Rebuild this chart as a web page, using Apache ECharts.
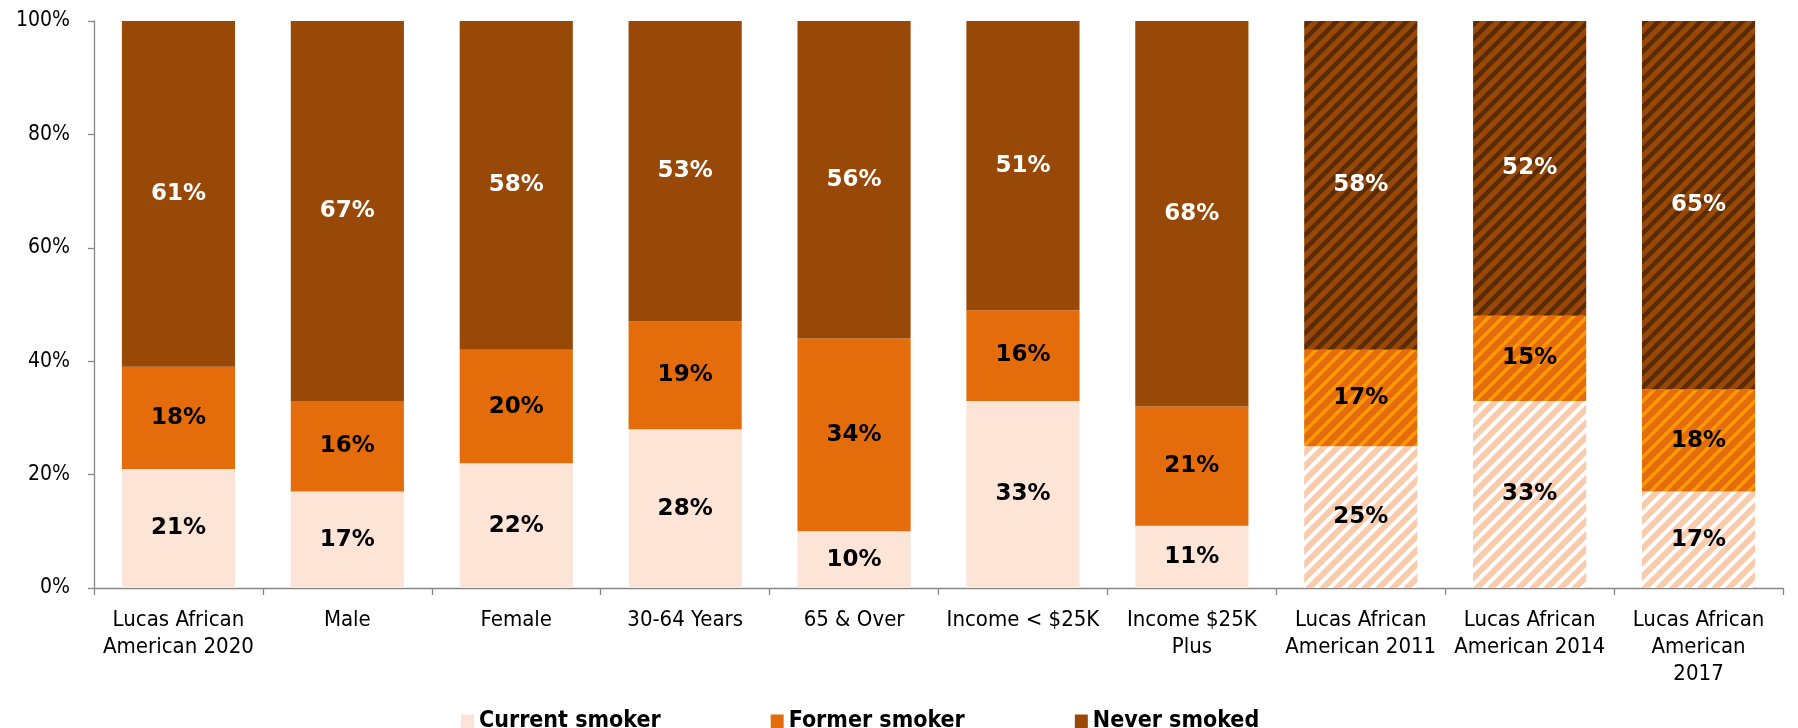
<!DOCTYPE html>
<html><head><meta charset="utf-8">
<script src="https://cdn.jsdelivr.net/npm/echarts@6/dist/echarts.min.js"></script>
<style>html,body{margin:0;padding:0;background:#fff}#c{width:1798px;height:728px}</style>
</head><body><div id="c"></div>
<script>
const categories = ['Lucas African\nAmerican 2020','Male','Female','30-64 Years','65 & Over','Income < $25K','Income $25K\nPlus','Lucas African\nAmerican 2011','Lucas African\nAmerican 2014','Lucas African\nAmerican\n2017'];
const currentSmoker = [21,17,22,28,10,33,11,25,33,17];
const formerSmoker  = [18,16,20,19,34,16,21,17,15,18];
const neverSmoked   = [61,67,58,53,56,51,68,58,52,65];
const hatched = [false,false,false,false,false,false,false,true,true,true];
const seriesNames = ['Current smoker','Former smoker','Never smoked'];

function stripe(bg, fg, w){
  const s = 14; const c = document.createElement('canvas'); c.width = s; c.height = s;
  const g = c.getContext('2d'); g.fillStyle = bg; g.fillRect(0,0,s,s);
  g.strokeStyle = fg; g.lineWidth = w; g.lineCap = 'square'; g.beginPath();
  for (const k of [-s,0,s]) { g.moveTo(k, s); g.lineTo(k+s, 0); }
  g.stroke(); return c;
}
const FONT = 'DejaVu Sans Condensed, DejaVu Sans';
function mk(name, vals, color, hatchBg, hatchFg, hw, labelColor){
  const pat = stripe(hatchBg, hatchFg, hw);
  return {
    name, type:'bar', stack:'s', barWidth:'67%',
    data: vals.map((v,i)=> hatched[i] ? {value:v, itemStyle:{color:{image:pat, repeat:'repeat'}}} : v),
    itemStyle:{color},
    label:{show:true, position:'inside', formatter:'{c}%', color:labelColor,
      fontFamily:'DejaVu Sans', fontWeight:'bold', fontSize:23},
    emphasis:{disabled:true}
  };
}
const chart = echarts.init(document.getElementById('c'), null, {renderer:'canvas'});
chart.setOption({
  animation:false,
  grid:{left:94, right:15, top:21, bottom:140, containLabel:false},
  legend:{
    data:seriesNames, left:456, top:705, itemGap:110, itemWidth:13, itemHeight:14, icon:'rect',
    textStyle:{fontFamily:FONT, fontWeight:'bold', fontSize:23, color:'#000'}
  },
  xAxis:{
    type:'category', data:categories,
    axisLine:{lineStyle:{color:'#868686', width:1.3}},
    axisTick:{show:true, length:7, lineStyle:{color:'#868686', width:1.3}},
    axisLabel:{interval:0, fontFamily:FONT, fontSize:22, lineHeight:27, color:'#000', margin:19}
  },
  yAxis:{
    type:'value', min:0, max:100, interval:20,
    axisLine:{show:true, lineStyle:{color:'#868686', width:1.3}},
    axisTick:{show:true, length:6, lineStyle:{color:'#868686', width:1.3}},
    splitLine:{show:false},
    axisLabel:{formatter:'{value}%', fontFamily:FONT, fontSize:21, color:'#000', margin:24}
  },
  series:[
    mk(seriesNames[0], currentSmoker, '#FCE4D6', '#F8CBAD', '#FFFFFF', 4, '#000'),
    mk(seriesNames[1], formerSmoker, '#E46C0A', '#E46C0A', '#FF9A00', 3.5, '#000'),
    mk(seriesNames[2], neverSmoked, '#984807', '#984807', '#5C2A03', 4.5, '#fff')
  ]
});
</script></body></html>
